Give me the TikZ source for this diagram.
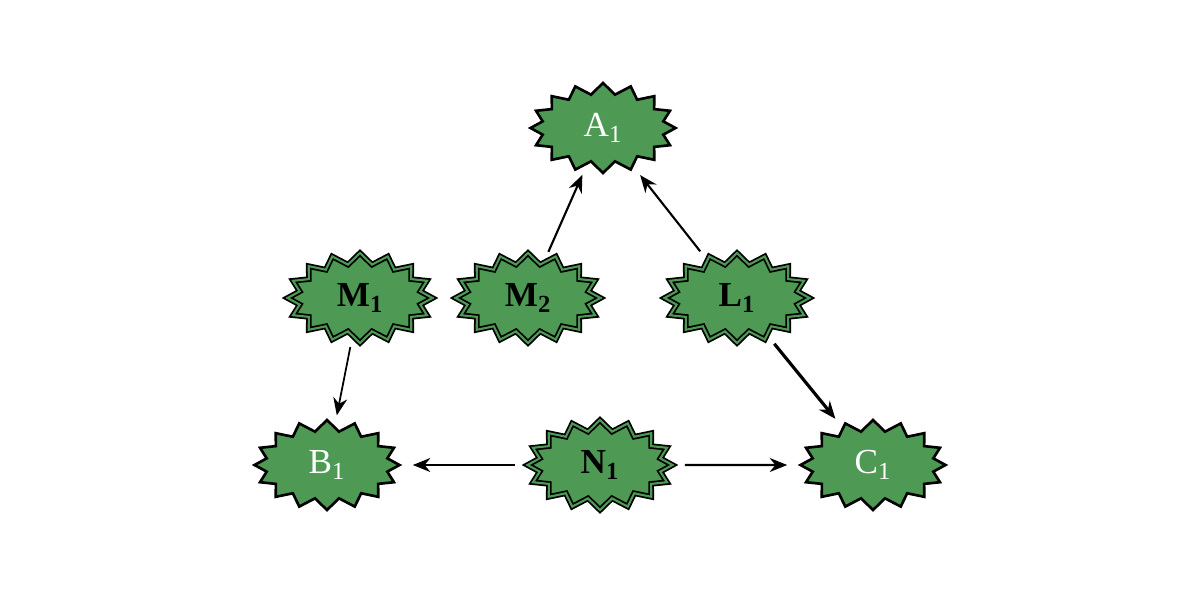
\documentclass[tikz,border=0pt]{standalone}
\usepackage{fontspec}
\setmainfont{Liberation Serif}
\usetikzlibrary{shapes.symbols,arrows.meta}
\definecolor{gr}{HTML}{4E9A55}
\begin{document}
\begin{tikzpicture}[
  sb/.style={starburst, random starburst=0, starburst points=16, starburst point height=0.22cm,
    fill=gr, draw=black, line width=1.5pt, minimum width=2.9cm, minimum height=1.8cm,
    inner sep=0pt, font=\fontsize{20}{22}\selectfont},
  outn/.style={sb, text=white},
  inn/.style={sb, font=\fontsize{20}{22}\selectfont\bfseries, double=gr, double distance=1.2pt, line width=1pt},
  arr/.style={-{Stealth[length=3.5mm,width=2.8mm]}, line width=1.2pt, shorten >=6pt, shorten <=6pt}
]
\useasboundingbox (0,0) rectangle (24,12);
\node[outn] (A) at (12.06,9.44) {A\textsubscript{1}};
\node[inn] (M1) at (7.2,6.04) {M\textsubscript{1}};
\node[inn] (M2) at (10.56,6.04) {M\textsubscript{2}};
\node[inn] (L) at (14.74,6.04) {L\textsubscript{1}};
\node[outn] (B) at (6.54,2.7) {B\textsubscript{1}};
\node[inn] (N) at (12,2.7) {N\textsubscript{1}};
\node[outn] (C) at (17.46,2.7) {C\textsubscript{1}};
\draw[arr] (M2) -- (A);
\draw[arr] (L) -- (A);
\draw[arr, line width=1.8pt] (L) -- (C);
\draw[arr, line width=1pt] (M1) -- (B);
\draw[arr] (N) -- (B);
\draw[arr] (N) -- (C);
\end{tikzpicture}
\end{document}
